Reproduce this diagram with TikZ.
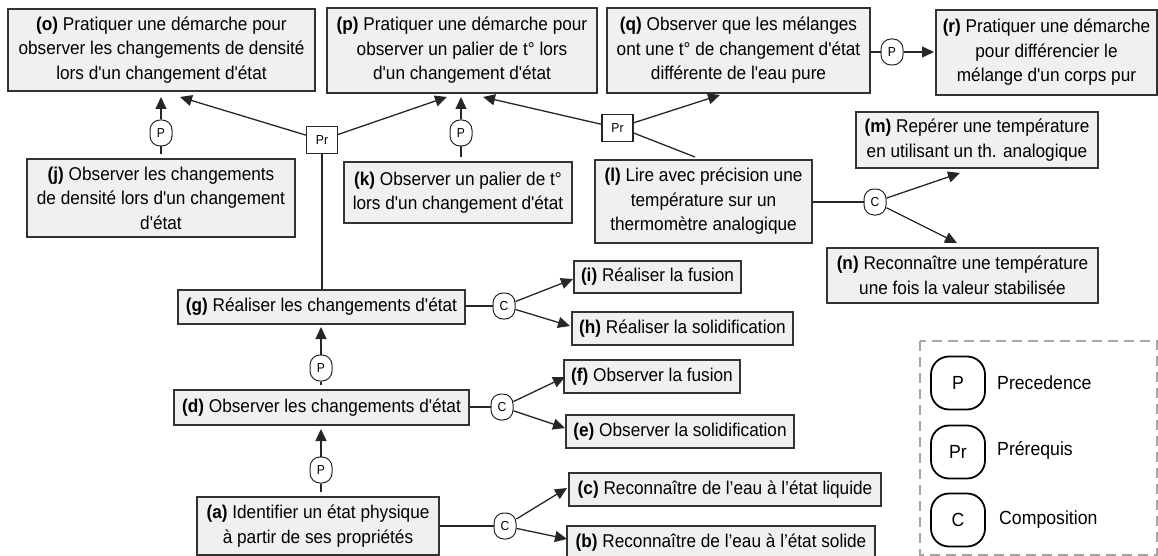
\documentclass[tikz,border=0pt]{standalone}
\usepackage{fontspec}
\setmainfont{Liberation Sans}[Ligatures=TeXOff,FakeStretch=0.93]
\newfontfamily\legfont{Liberation Sans}[Ligatures=TeXOff]
\usetikzlibrary{arrows.meta,calc}
\begin{document}
\begin{tikzpicture}[x=1pt,y=-1pt,
  box/.style={draw=black!80,fill=gray!12,line width=1.3pt,inner sep=0pt,align=center,
    font=\fontsize{18.5}{24.5}\selectfont},
  rel/.style={draw=black!85,fill=white,line width=1pt,rounded corners=10pt,inner sep=0pt,
    minimum width=22pt,minimum height=26pt,font=\fontsize{13}{13}\selectfont},
  prbox/.style={draw=black!85,fill=white,line width=1.2pt,inner sep=0pt,
    minimum width=31pt,minimum height=27pt,font=\fontsize{13}{13}\selectfont},
  leg/.style={draw=black,line width=1.8pt,rounded corners=18pt,inner sep=0pt,
    minimum width=54pt,minimum height=53pt,font=\fontsize{19}{19}\selectfont},
  legtxt/.style={anchor=west,inner sep=0pt,font=\fontsize{19}{19}\selectfont},
  ln/.style={draw=black!85,line width=1.3pt},
  arr/.style={ln,-{Triangle[length=12pt,width=11pt]}}]
\useasboundingbox (0,0) rectangle (1158,556);

% boxes
\node[box,minimum width=307pt,minimum height=82pt] (o) at (161.5,50) {\textbf{(o)} Pratiquer une démarche pour\\observer les changements de densité\\lors d'un changement d'état};
\node[box,minimum width=270pt,minimum height=85pt] (p) at (462,50.5) {\textbf{(p)} Pratiquer une démarche pour\\observer un palier de t° lors\\d'un changement d'état};
\node[box,minimum width=263pt,minimum height=85pt] (q) at (738.5,50.5) {\textbf{(q)} Observer que les mélanges\\ont une t° de changement d'état\\différente de l'eau pure};
\node[box,minimum width=221pt,minimum height=85pt] (r) at (1046.5,52.5) {\textbf{(r)} Pratiquer une démarche\\pour différencier le\\mélange d'un corps pur};
\node[box,minimum width=268pt,minimum height=78pt] (j) at (161,198) {\textbf{(j)} Observer les changements\\de densité lors d'un changement\\d'état};
\node[box,minimum width=228pt,minimum height=61pt] (k) at (458,192.5) {\textbf{(k)} Observer un palier de t°\\lors d'un changement d'état};
\node[box,minimum width=217pt,minimum height=83pt] (l) at (703.5,201.5) {\textbf{(l)} Lire avec précision une\\température sur un\\thermomètre analogique};
\node[box,minimum width=242pt,minimum height=56pt] (m) at (977,140) {\textbf{(m)} Repérer une température\\en utilisant un th. analogique};
\node[box,minimum width=271pt,minimum height=55pt] (n) at (962.5,275.5) {\textbf{(n)} Reconnaître une température\\une fois la valeur stabilisée};
\node[box,minimum width=287pt,minimum height=34pt] (g) at (321.5,307) {\textbf{(g)} Réaliser les changements d'état};
\node[box,minimum width=167pt,minimum height=32pt] (i) at (657.5,277) {\textbf{(i)} Réaliser la fusion};
\node[box,minimum width=221pt,minimum height=33pt] (h) at (682.5,328.5) {\textbf{(h)} Réaliser la solidification};
\node[box,minimum width=295pt,minimum height=35pt] (d) at (321.5,407.5) {\textbf{(d)} Observer les changements d'état};
\node[box,minimum width=176pt,minimum height=33pt] (f) at (652,376.5) {\textbf{(f)} Observer la fusion};
\node[box,minimum width=228pt,minimum height=33pt] (e) at (680,431.5) {\textbf{(e)} Observer la solidification};
\node[box,minimum width=242pt,minimum height=58pt] (a) at (318,526) {\textbf{(a)} Identifier un état physique\\à partir de ses propriétés};
\node[box,minimum width=312pt,minimum height=33pt] (c) at (725,489.5) {\textbf{(c)} Reconnaître de l’eau à l’état liquide};
\node[box,minimum width=308pt,minimum height=34pt] (b) at (721,543) {\textbf{(b)} Reconnaître de l’eau à l’état solide};

% relation nodes
\node[rel] (Poj) at (161,133) {P};
\node[rel] (Ppk) at (461,133) {P};
\node[rel] (Pqr) at (892,52) {P};
\node[rel] (Pgd) at (321,368) {P};
\node[rel] (Pda) at (321,470) {P};
\node[rel] (Cg) at (504,306) {C};
\node[rel] (Cd) at (502,407) {C};
\node[rel] (Ca) at (505,526) {C};
\node[rel] (Cl) at (875,202) {C};
\node[prbox] (Pr1) at (322,140) {Pr};
\node[prbox] (Pr2) at (617.5,128) {Pr};

% arrow tips
\coordinate (tOj) at (161,97);
\coordinate (tO1) at (180,97);
\coordinate (tP1) at (447,97);
\coordinate (tPk) at (461,97);
\coordinate (tP2) at (483,97);
\coordinate (tQ2) at (720,95);
\coordinate (tR) at (934,52);
\coordinate (tM) at (960,173);
\coordinate (tN) at (957,243);
\coordinate (tI) at (573,279);
\coordinate (tH) at (570,326);
\coordinate (tF) at (565,377);
\coordinate (tE) at (565,428);
\coordinate (tC) at (567,488);
\coordinate (tB) at (567,539);
\coordinate (tG) at (321,327);
\coordinate (tD) at (321,429);
\coordinate (lTop) at (695,157);

% connectors
\draw[ln,shorten <=4pt] (Poj.south |- j.north) -- (Poj.south);
\draw[arr] (Poj.north) -- (tOj);
\draw[ln,shorten <=4pt] (Ppk.south |- k.north) -- (Ppk.south);
\draw[arr] (Ppk.north) -- (tPk);
\draw[arr] (Pr1) -- (tO1);
\draw[arr] (Pr1) -- (tP1);
\draw[ln] (Pr1.south) -- (Pr1.south |- g.north);
\draw[arr] (Pr2) -- (tP2);
\draw[arr] (Pr2) -- (tQ2);
\draw[ln] (Pr2.east |- 0,133) -- (lTop);
\draw[ln] (q.east |- Pqr) -- (Pqr.west);
\draw[arr] (Pqr.east) -- (tR);
\draw[ln] (l.east |- Cl) -- (Cl.west);
\draw[arr] (Cl) -- (tM);
\draw[arr] (Cl) -- (tN);
\draw[ln] (g.east |- Cg) -- (Cg.west);
\draw[arr] (Cg) -- (tI);
\draw[arr] (Cg) -- (tH);
\draw[ln] (d.east |- Cd) -- (Cd.west);
\draw[arr] (Cd) -- (tF);
\draw[arr] (Cd) -- (tE);
\draw[ln] (a.east |- Ca) -- (Ca.west);
\draw[arr] (Ca) -- (tC);
\draw[arr] (Ca) -- (tB);
\draw[ln,shorten <=4pt] (Pgd.south |- d.north) -- (Pgd.south);
\draw[arr] (Pgd.north) -- (tG);
\draw[ln,shorten <=4pt] (Pda.south |- a.north) -- (Pda.south);
\draw[arr] (Pda.north) -- (tD);

% legend
\draw[gray!70,line width=2pt,dash pattern=on 10pt off 6pt] (920,341) rectangle (1157,555);
\node[leg] (lp) at (958,383) {P};
\node[leg] (lpr) at (958,452) {Pr};
\node[leg] (lc) at (958,520) {C};
\node[legtxt] (ltp) at (997,383) {Precedence};
\node[legtxt] (ltpr) at (997,450) {Prérequis};
\node[legtxt] (ltc) at (999,520) {Composition};
\end{tikzpicture}
\end{document}
